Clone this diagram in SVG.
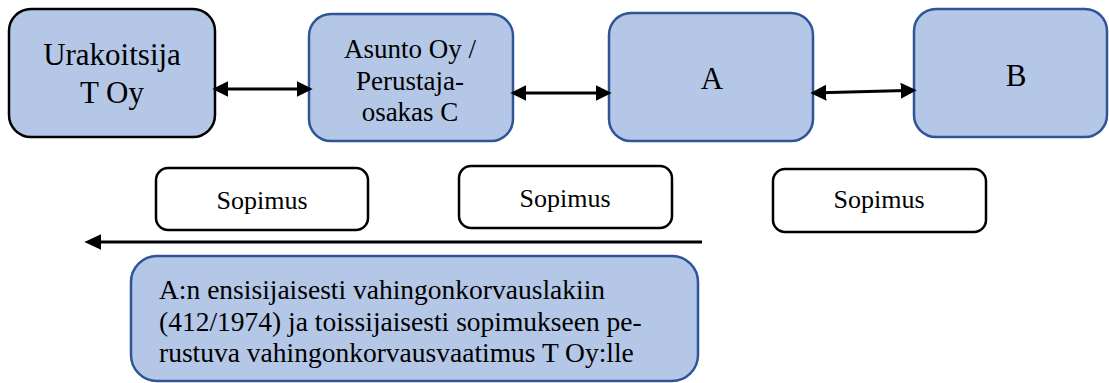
<svg xmlns="http://www.w3.org/2000/svg" width="1109" height="383" viewBox="0 0 1109 383">
<style>
.party{fill:#b4c7e7;stroke:#2f5597;stroke-width:2.5}
.black{stroke:#000}
.contract{fill:#fff;stroke:#000;stroke-width:2.5}
text{fill:#000}
.big{font-size:31px;text-anchor:middle}
.mid{font-size:27px;text-anchor:middle}
.small{font-size:26px;text-anchor:middle}
.claim{font-size:27.5px}
.conn{stroke:#000;stroke-width:3;fill:none}
</style>
<defs>
<marker id="ah" markerUnits="userSpaceOnUse" markerWidth="16" markerHeight="16" viewBox="0 0 15 15" refX="5" refY="7.5" orient="auto-start-reverse">
<path d="M0,0 L15,7.5 L0,15 z" fill="#000"/>
</marker>
<marker id="ah2" markerUnits="userSpaceOnUse" markerWidth="17" markerHeight="16" viewBox="0 0 16 15" refX="6" refY="7.5" orient="auto">
<path d="M0,0 L16,7.5 L0,15 z" fill="#000"/>
</marker>
</defs>
<g font-family="'Liberation Serif', 'DejaVu Serif', serif">
<g id="node-urakoitsija">
<rect class="party black" x="9" y="9" width="206" height="128" rx="22" stroke-width="2.8"/>
<text class="big" x="112" y="65">Urakoitsija</text>
<text class="big" x="112" y="103">T Oy</text>
</g>
<g id="node-asunto">
<rect class="party" x="309" y="14" width="204" height="127" rx="22"/>
<text class="mid" x="410" y="58">Asunto Oy /</text>
<text class="mid" x="410" y="90">Perustaja-</text>
<text class="mid" x="410" y="121">osakas C</text>
</g>
<g id="node-a">
<rect class="party" x="609" y="13" width="204" height="128" rx="22"/>
<text class="big" x="712" y="89">A</text>
</g>
<g id="node-b">
<rect class="party" x="914" y="9" width="193" height="128" rx="22"/>
<text class="big" x="1016" y="86">B</text>
</g>
<g id="node-sopimus1">
<rect class="contract" x="156" y="168" width="212" height="62" rx="12"/>
<text class="small" x="262" y="209">Sopimus</text>
</g>
<g id="node-sopimus2">
<rect class="contract" x="459" y="166" width="213" height="62" rx="12"/>
<text class="small" x="565" y="207">Sopimus</text>
</g>
<g id="node-sopimus3">
<rect class="contract" x="773" y="169" width="213" height="63" rx="12"/>
<text class="small" x="879" y="208">Sopimus</text>
</g>
<g id="node-claim">
<rect class="party" x="131" y="256" width="567" height="125" rx="26"/>
<text class="claim" x="159" y="299">A:n ensisijaisesti vahingonkorvauslakiin</text>
<text class="claim" x="159" y="331">(412/1974) ja toissijaisesti sopimukseen pe-</text>
<text class="claim" x="159" y="362">rustuva vahingonkorvausvaatimus T Oy:lle</text>
</g>
</g>
<g id="connectors">
<line class="conn" x1="223" y1="89" x2="302" y2="89" marker-start="url(#ah)" marker-end="url(#ah)"/>
<line class="conn" x1="521" y1="93" x2="601" y2="93" marker-start="url(#ah)" marker-end="url(#ah)"/>
<line class="conn" x1="821" y1="92.8" x2="906" y2="90.5" marker-start="url(#ah)" marker-end="url(#ah)"/>
<line class="conn" x1="702" y1="242" x2="95" y2="242" marker-end="url(#ah2)"/>
</g>
</svg>
